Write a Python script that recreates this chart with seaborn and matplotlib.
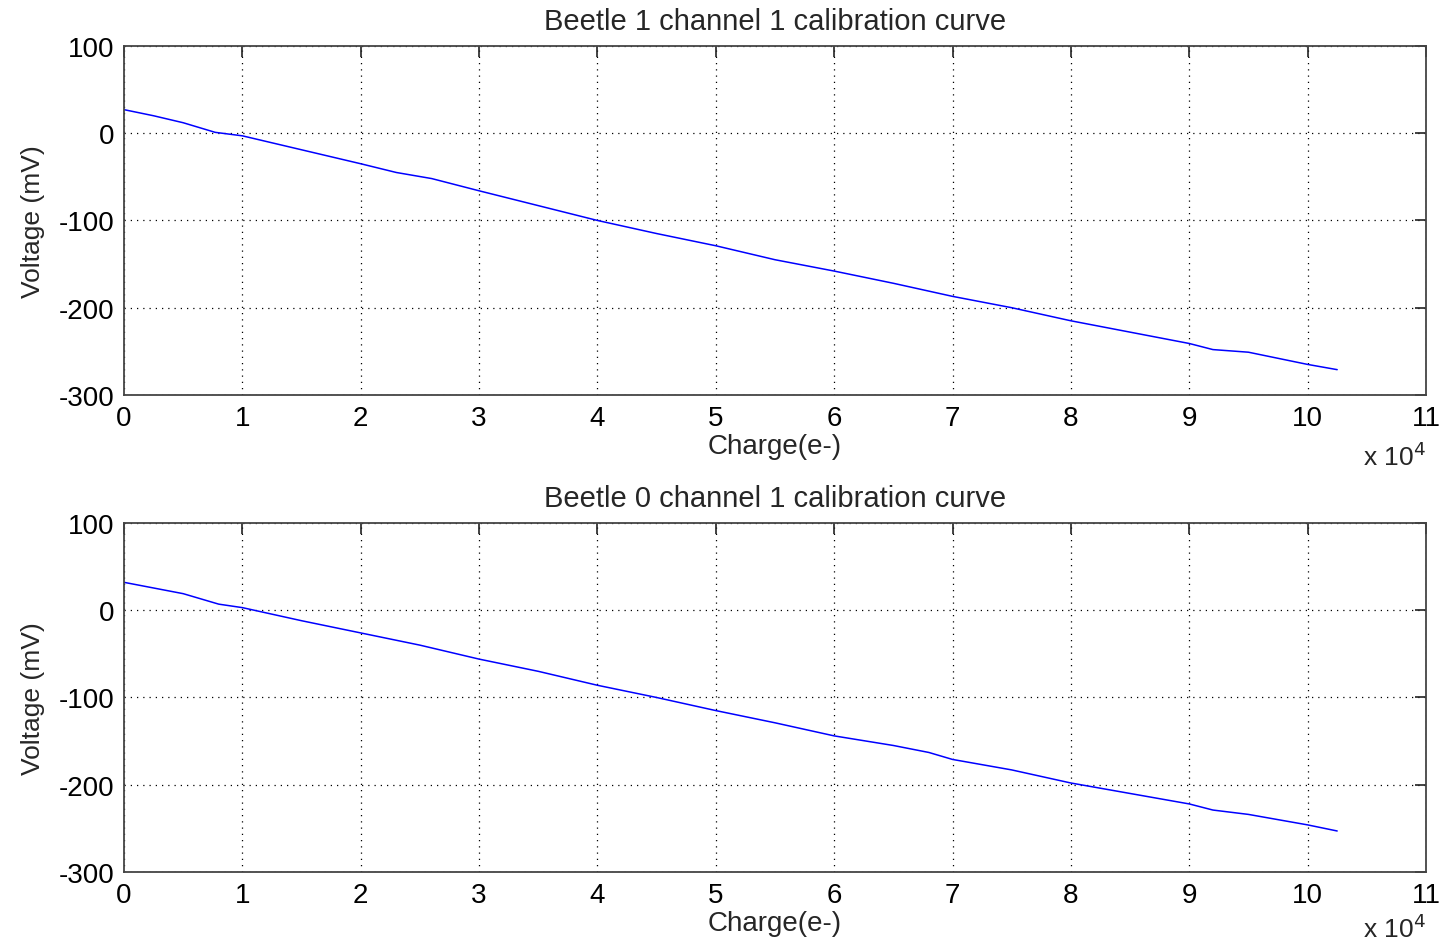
import numpy as np
import pandas as pd
import matplotlib.pyplot as plt
import seaborn as sns

# charge in units of 1e4 electrons, voltage in mV
charge_b1 = [0, 0.25, 0.5, 0.77, 1.0, 1.5, 2.0, 2.3, 2.6, 2.8, 3.0, 3.5, 4.0, 4.5, 5.0,
             5.5, 6.0, 6.5, 7.0, 7.5, 8.0, 8.5, 9.0, 9.2, 9.5, 10.0, 10.25]
volt_b1 = [27, 20, 12, 1, -3, -19, -35, -45, -52, -59, -66, -83, -100, -115, -129,
           -145, -158, -172, -187, -200, -215, -228, -241, -248, -251, -265, -271]

charge_b0 = [0, 0.5, 0.8, 1.0, 1.5, 2.0, 2.5, 3.0, 3.5, 4.0, 4.5, 5.0, 5.5, 6.0,
             6.5, 6.8, 7.0, 7.5, 8.0, 8.5, 9.0, 9.2, 9.5, 10.0, 10.25]
volt_b0 = [32, 19, 7, 3, -12, -26, -40, -56, -70, -86, -100, -115, -129, -144,
           -155, -163, -171, -183, -198, -210, -222, -229, -234, -246, -253]

titles = ['Beetle 1 channel 1 calibration curve', 'Beetle 0 channel 1 calibration curve']

sns.set_style('white')
plt.rcParams['font.family'] = ['Liberation Sans', 'DejaVu Sans']
plt.rcParams['axes.unicode_minus'] = False

fig = plt.figure(figsize=(14.44, 9.45), dpi=100)
ax1 = fig.add_axes([0.0859, 0.581, 0.9016, 0.3693])
ax2 = fig.add_axes([0.0859, 0.0762, 0.9016, 0.3693])

for ax, xs, ys, title in [(ax1, charge_b1, volt_b1, titles[0]),
                          (ax2, charge_b0, volt_b0, titles[1])]:
    df = pd.DataFrame({'charge': xs, 'voltage': ys})
    sns.lineplot(data=df, x='charge', y='voltage', ax=ax, color='#0000ff', linewidth=1.1)
    ax.set_xlim(0, 11)
    ax.set_ylim(-300, 100)
    ax.set_xticks(range(0, 12))
    ax.set_yticks([-300, -200, -100, 0, 100])
    ax.grid(True, color='black', linestyle=(0, (1, 4)), linewidth=0.9)
    ax.tick_params(direction='in', length=8, width=1.2, top=True, right=True,
                   labelsize=20, pad=7, colors='#222222')
    ax.tick_params(labelcolor='black')
    for s in ax.spines.values():
        s.set_color('#444444')
        s.set_linewidth(1.3)
    ax.set_xlabel('Charge(e-)', fontsize=20, labelpad=2)
    ax.set_ylabel('Voltage (mV)', fontsize=19, labelpad=10)
    ax.set_title(title, fontsize=21, pad=12)

ax1.text(1.0, -0.175, 'x 10$^{4}$', transform=ax1.transAxes, ha='right', va='center', fontsize=19)
ax2.text(1.0, -0.16, 'x 10$^{4}$', transform=ax2.transAxes, ha='right', va='center', fontsize=19)

fig.savefig('out.png', dpi=100)
plt.close()
